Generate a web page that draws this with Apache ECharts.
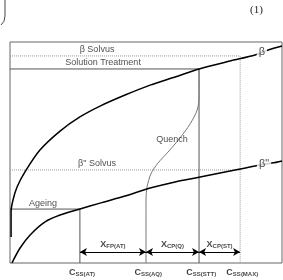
<!DOCTYPE html>
<html>
<head>
<meta charset="utf-8">
<script src="https://cdn.jsdelivr.net/npm/echarts@6/dist/echarts.min.js"></script>
<style>
  html, body { margin: 0; padding: 0; background: #fff; }
  #main { width: 283px; height: 280px; }
</style>
</head>
<body>
<div id="main"></div>
<script>
var chart = echarts.init(document.getElementById('main'));

// schematic units: x = solute content 0..100, y = temperature 0..100
var betaCurve = [[0.4, 11.8], [0.4, 23.1], [1.1, 28.5], [2.6, 34.4], [5.5, 41.2], [11.0, 51.1],
  [18.4, 59.7], [25.7, 66.1], [33.1, 71.0], [42.3, 76.0], [51.5, 80.5], [60.7, 84.2],
  [69.5, 87.8], [80.9, 91.4], [90.1, 94.1], [94.9, 96.4], [100, 98.2]];
var betaDdCurve = [[0.7, 0], [3.7, 6.8], [7.4, 12.7], [12.9, 18.6], [18.4, 21.7], [25.7, 24.4],
  [33.1, 27.1], [42.3, 30.3], [51.5, 33.9], [60.7, 36.7], [69.9, 38.9], [80.9, 41.6],
  [90.1, 43.9], [96.3, 45.2], [100, 46.2]];
var quenchCurve = [[69.5, 87.8], [69.5, 75.1], [68.8, 69.2], [66.2, 62.9], [62.5, 56.6],
  [58.1, 50.2], [54.4, 45.2], [51.8, 40.3], [50.4, 34.4], [50.0, 28.5], [50.0, 0]];

var cssNames = ['SS(AT)', 'SS(AQ)', 'SS(STT)', 'SS(MAX)'];
var cssX = [25.7, 50.0, 69.5, 84.6];
var xNames = ['FP(AT)', 'CP(Q)', 'CP(ST)'];
var solutionY = 87.8;
var betaSolvusY = 93.7;
var betaDdSolvusY = 42.1;
var ageingY = 24.4;
var arrowY = 5.0;

var notes = ['β Solvus', 'Solution Treatment', 'Quench', 'β" Solvus', 'Ageing', 'β', 'β"'];
var notePos = [[32, 96.4], [34.2, 90.5], [59.6, 56.1], [32, 44.8], [12.1, 27.1], [92.6, 95.5], [93.4, 44.8]];

var font = 'Liberation Sans';

var labelData = [];
notes.forEach(function (t, i) {
  var white = (t === 'β' || t === 'β"');
  labelData.push({
    value: notePos[i],
    label: {
      formatter: t, fontSize: white ? 11 : 9, color: '#222', fontFamily: font,
      backgroundColor: white ? '#fff' : 'transparent', padding: white ? [0, 2] : 0
    }
  });
});
xNames.forEach(function (t, i) {
  labelData.push({
    value: [(cssX[i] + cssX[i + 1]) / 2, arrowY + 3.5],
    label: { formatter: '{c|X}{s|' + t + '}' }
  });
});
cssNames.forEach(function (t, i) {
  labelData.push({
    value: [cssX[i] + 0.8, -4.1],
    label: { formatter: '{c|C}{s|' + t + '}' }
  });
});

var arrowLines = [];
for (var i = 0; i < 3; i++) {
  arrowLines.push([{ coord: [cssX[i], arrowY] }, { coord: [cssX[i + 1], arrowY] }]);
}

function plain(data, color, width, type) {
  return {
    type: 'line', data: data, symbol: 'none', silent: true,
    lineStyle: { color: color, width: width, type: type || 'solid' }
  };
}

var option = {
  animation: false,
  grid: { left: 10, right: 1, top: 42, bottom: 17, show: true, borderColor: '#666', borderWidth: 1 },
  xAxis: { type: 'value', min: 0, max: 100, show: false },
  yAxis: { type: 'value', min: 0, max: 100, show: false },
  graphic: [
    { type: 'text', x: 250, y: 5, style: { text: '(1)', font: '11px "Liberation Serif"', fill: '#222' } },
    { type: 'line', shape: { x1: 5, y1: 0, x2: 5, y2: 16 }, style: { stroke: '#444', lineWidth: 1 } },
    { type: 'bezierCurve', shape: { x1: 5, y1: 16, cpx1: 5, cpy1: 22, x2: 1, y2: 25 }, style: { stroke: '#444', lineWidth: 1, fill: null } }
  ],
  series: [
    plain([[0, betaSolvusY], [cssX[3], betaSolvusY], [cssX[3], 0]], '#999', 1, 'dotted'),
    plain([[0, betaDdSolvusY], [cssX[3], betaDdSolvusY]], '#999', 1, 'dotted'),
    plain([[0, solutionY], [cssX[2], solutionY], [cssX[2], 0]], '#555', 1),
    plain([[0, ageingY], [cssX[0], ageingY], [cssX[0], 0]], '#555', 1),
    Object.assign(plain(quenchCurve, '#777', 1), { smooth: 0.3 }),
    Object.assign(plain(betaCurve, '#000', 1.5), { smooth: 0.3 }),
    Object.assign(plain(betaDdCurve, '#000', 1.5), { smooth: 0.3 }),
    {
      type: 'line', data: [], silent: true,
      markLine: {
        silent: true, symbol: ['arrow', 'arrow'], symbolSize: [6, 7],
        label: { show: false },
        lineStyle: { color: '#000', width: 1, type: 'solid' },
        data: arrowLines
      }
    },
    {
      type: 'scatter', data: labelData, symbolSize: 0, silent: true, clip: false, z: 10,
      label: {
        show: true, position: 'inside', fontFamily: font,
        rich: {
          c: { fontSize: 9, fontWeight: 'bold', color: '#111', fontFamily: font },
          s: { fontSize: 6, fontWeight: 'bold', color: '#111', fontFamily: font, padding: [4, 0, 0, 0] }
        }
      }
    }
  ]
};

chart.setOption(option);
</script>
</body>
</html>
